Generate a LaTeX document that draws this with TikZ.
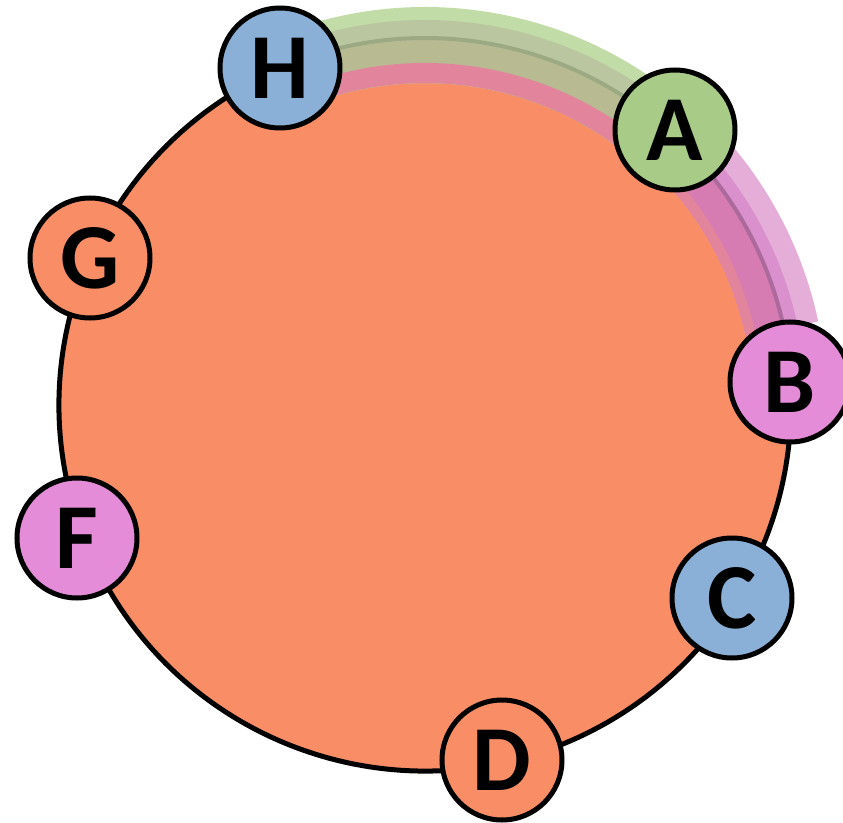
\documentclass[tikz,border=0pt]{standalone}
\usepackage{fontspec}
\newfontfamily\nodefont{Carlito}
\usepackage{tikz}
\usetikzlibrary{shapes}

\definecolor{ringorange}{RGB}{249,142,102}
\definecolor{ringblue}{RGB}{138,176,216}
\definecolor{ringgreen}{RGB}{168,204,136}
\definecolor{ringpink}{RGB}{228,140,216}
\definecolor{bandlightgreen}{RGB}{194,220,168}
\definecolor{bandgreygreen}{RGB}{186,198,160}
\definecolor{bandolive}{RGB}{184,186,146}
\definecolor{bandgreenline}{RGB}{156,170,132}
\definecolor{bandrose}{RGB}{226,132,156}
\definecolor{bandlightpurple}{RGB}{228,174,216}
\definecolor{bandpurple}{RGB}{218,144,204}
\definecolor{banddeep}{RGB}{214,124,178}
\definecolor{bandpurpleline}{RGB}{172,106,156}

\tikzset{
  ringnode/.style={draw,circle,line width=5pt,minimum size=120pt,inner sep=0pt,
    font=\nodefont\bfseries\fontsize{93}{93}\selectfont},
}

% annular sector: colour, start angle, end angle, inner radius, outer radius
\newcommand{\band}[5]{\fill[#1] (#2:#4) arc[start angle=#2,end angle=#3,radius=#4pt]
  -- (#3:#5) arc[start angle=#3,end angle=#2,radius=#5pt] -- cycle;}

\begin{document}
\begin{tikzpicture}[x=1pt,y=1pt]
\useasboundingbox (-425,-417) rectangle (418,405);

\fill[ringorange] (0,0) circle[radius=366pt];

\band{bandlightgreen}{110}{50}{322}{398}
\band{bandgreygreen}{110}{50}{322}{385}
\band{bandolive}{110}{50}{322}{367}
\band{bandrose}{110}{50}{322}{342}
\draw[bandgreenline,line width=4pt] (110:367) arc[start angle=110,end angle=50,radius=367pt];

\band{bandlightpurple}{46}{12}{328}{402}
\band{bandpurple}{46}{12}{328}{381}
\band{banddeep}{46}{5}{328}{366}
\band{bandrose}{46}{5}{328}{338}
\draw[bandpurpleline,line width=4pt] (46:367) arc[start angle=46,end angle=8,radius=367pt];

\draw[line width=5pt] (113.3:366) arc[start angle=113.3,end angle=363.6,radius=366pt];

\node (H) at (-145,337)[ringnode,fill=ringblue] {H};
\node (A) at (250,275)[ringnode,fill=ringgreen] {A};
\node (B) at (365,23)[ringnode,fill=ringpink] {B};
\node (C) at (307,-193)[ringnode,fill=ringblue] {C};
\node (D) at (77,-355)[ringnode,fill=ringorange] {D};
\node (F) at (-348,-133)[ringnode,fill=ringpink] {F};
\node (G) at (-335,147)[ringnode,fill=ringorange] {G};
\end{tikzpicture}
\end{document}
